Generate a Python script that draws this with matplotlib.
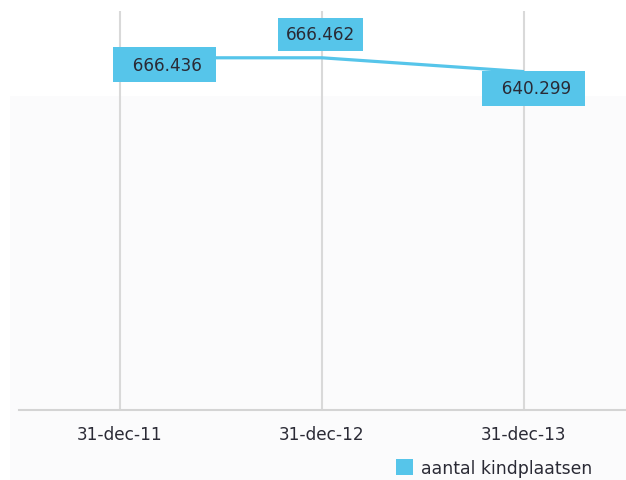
import matplotlib.pyplot as plt
from matplotlib.patches import Patch, Rectangle

plt.rcParams["font.family"] = ["DejaVu Sans"]

dates = ["31-dec-11", "31-dec-12", "31-dec-13"]
kindplaatsen = [666.436, 666.462, 640.299]
value_labels = ["666.436", "666.462", "640.299"]
series_name = "aantal kindplaatsen"

blue = "#56c5ea"
text_col = "#2a2a35"

fig = plt.figure(figsize=(6.26, 4.81), dpi=100)
W, H = 626, 481

# faint grey plot background
fig.patches.append(Rectangle((10 / W, 0), 1, 1 - 97 / H, transform=fig.transFigure,
                             facecolor="#fbfbfc", edgecolor="none", zorder=-10))

ax = fig.add_axes([19 / W, (H - 411) / H, 606 / W, 399 / H])
ax.set_zorder(1)
ax.set_facecolor("none")

x = list(range(len(dates)))
ax.plot(x, kindplaatsen, color=blue, lw=2.3, zorder=3, solid_capstyle="butt")

ax.set_xlim(-0.5, 2.5)
ax.set_ylim(0, 755)
ax.set_xticks(x)
ax.set_xticklabels(dates, fontsize=12.2, color=text_col)
ax.set_yticks([])
ax.tick_params(axis="x", length=0, pad=11)
ax.grid(axis="x", color="#d9d9d9", lw=1.5, zorder=1)
for s in ["top", "left", "right"]:
    ax.spines[s].set_visible(False)
ax.spines["bottom"].set_color("#d4d4d4")
ax.spines["bottom"].set_linewidth(1.5)

# value labels (offsets in points)
offsets = [(32, -5), (-1, 17), (7, -12)]
texts = ["  " + value_labels[0] + " ", value_labels[1], "  " + value_labels[2] + " "]
pads = [0.5, 0.45, 0.5]
for xi, yi, t, off, p in zip(x, kindplaatsen, texts, offsets, pads):
    ax.annotate(t, (xi, yi), xytext=off, textcoords="offset points",
                ha="center", va="center", fontsize=12.2, color=text_col, zorder=5,
                bbox=dict(boxstyle=f"square,pad={p}", facecolor=blue, edgecolor="none"))

handle = Patch(facecolor=blue, edgecolor="none", label=series_name)
fig.legend(handles=[handle], loc="center left", bbox_to_anchor=(396 / W, 1 - 469 / H),
           frameon=False, fontsize=12.4, handlelength=1.0, handleheight=1.0,
           handletextpad=0.45, borderpad=0, borderaxespad=0, labelcolor=text_col)

fig.savefig("out.png", dpi=100, facecolor="white")
